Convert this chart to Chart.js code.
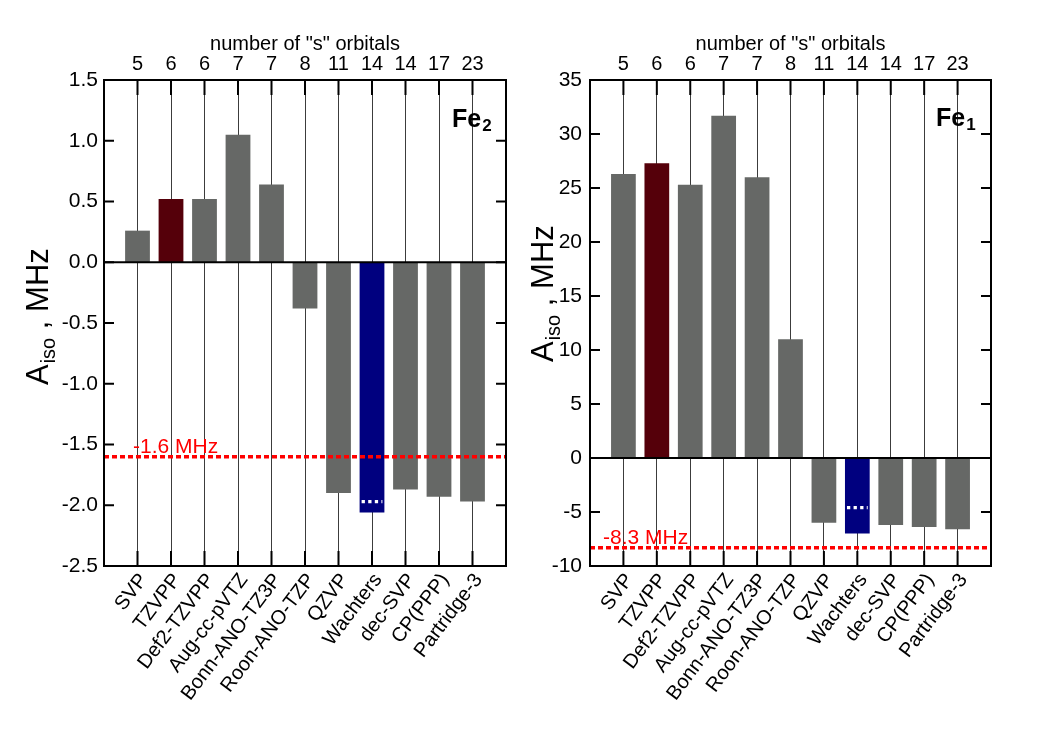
<!DOCTYPE html>
<html>
<head>
<meta charset="utf-8">
<title>Aiso basis sets</title>
<script src="https://cdn.jsdelivr.net/npm/chart.js@4.4.1/dist/chart.umd.min.js"></script>
<style>
  html, body { margin: 0; padding: 0; background: #fff; }
  #wrap { position: relative; width: 1050px; height: 739px; }
  .panel { position: absolute; top: 0; width: 525px; height: 739px; }
</style>
</head>
<body>
<div id="wrap">
  <div class="panel" style="left:0;"><canvas id="ch-fe2"></canvas></div>
  <div class="panel" style="left:525px;"><canvas id="ch-fe1"></canvas></div>
</div>
<script>
// ── datos ────────────────────────────────────────────────
const BASIS = ['SVP', 'TZVPP', 'Def2-TZVPP', 'Aug-cc-pVTZ', 'Bonn-ANO-TZ3P', 'Roon-ANO-TZP',
               'QZVP', 'Wachters', 'dec-SVP', 'CP(PPP)', 'Partridge-3'];
const S_ORB = [5, 6, 6, 7, 7, 8, 11, 14, 14, 17, 23];
const FE2   = [0.26, 0.52, 0.52, 1.05, 0.64, -0.38, -1.90, -2.06, -1.87, -1.93, -1.97];
const FE1   = [26.3, 27.3, 25.3, 31.7, 26.0, 11.0, -6.0, -7.0, -6.2, -6.4, -6.6];
const FE2_Y = [-2.5, 1.5, 0.5];   // min, max, paso
const FE1_Y = [-10, 35, 5];
const EXP_FE2 = -1.6;             // línea experimental
const EXP_FE1 = -8.3;
const WACH_FE2 = -1.97;           // marca punteada dentro de Wachters
const WACH_FE1 = -4.6;

const GRAY = '#666866', RED = '#55000a', BLUE = '#00007f';
const FONT = 'Liberation Sans, Arial, Helvetica, sans-serif';

// relleno de una categoría vacía a cada lado
const padded = (arr, fill) => [fill, ...arr, fill];
const barColors = BASIS.map((b, i) => i === 1 ? RED : i === 7 ? BLUE : GRAY);

// ── decoración: marco, ticks interiores, líneas de referencia, textos ──
const panelDeco = {
  id: 'panelDeco',
  afterDatasetsDraw(chart, args, o) {
    const { ctx, chartArea: a, scales: { x, y } } = chart;
    ctx.save();

    // línea cero
    const y0 = y.getPixelForValue(0);
    ctx.strokeStyle = '#000';
    ctx.lineWidth = 2;
    ctx.beginPath(); ctx.moveTo(a.left, y0); ctx.lineTo(a.right, y0); ctx.stroke();

    // punteado blanco en la barra Wachters
    const el = chart.getDatasetMeta(0).data[8];
    const yw = y.getPixelForValue(o.wach);
    ctx.strokeStyle = '#fff';
    ctx.lineWidth = 3.2;
    ctx.setLineDash([3.3, 3.3]);
    ctx.beginPath(); ctx.moveTo(el.x - el.width / 2 + 2, yw); ctx.lineTo(el.x + el.width / 2 - 2, yw); ctx.stroke();

    // línea experimental roja
    const ye = y.getPixelForValue(o.exp);
    ctx.strokeStyle = '#ff0000';
    ctx.lineWidth = 3.5;
    ctx.setLineDash([5, 3]);
    ctx.beginPath(); ctx.moveTo(a.left, ye); ctx.lineTo(a.right, ye); ctx.stroke();
    ctx.setLineDash([]);
    ctx.fillStyle = '#ff0000';
    ctx.font = `21px ${FONT}`;
    ctx.textBaseline = 'alphabetic';
    ctx.textAlign = 'left';
    ctx.fillText(o.exp.toFixed(1) + ' MHz', a.left + o.expDx, ye - 4);

    // ticks interiores
    ctx.strokeStyle = '#000';
    ctx.lineWidth = 2;
    ctx.beginPath();
    for (let i = 1; i <= BASIS.length; i++) {
      const px = x.getPixelForTick(i);
      ctx.moveTo(px, a.top); ctx.lineTo(px, a.top + 15);
      ctx.moveTo(px, a.bottom); ctx.lineTo(px, a.bottom - 15);
    }
    y.ticks.forEach((t, i) => {
      const py = y.getPixelForTick(i);
      ctx.moveTo(a.left, py); ctx.lineTo(a.left + 10, py);
      ctx.moveTo(a.right, py); ctx.lineTo(a.right - 10, py);
    });
    ctx.stroke();

    // marco
    ctx.lineWidth = 2;
    ctx.strokeRect(a.left, a.top, a.right - a.left, a.bottom - a.top);

    // etiqueta Fe
    ctx.fillStyle = '#000';
    ctx.font = `bold 25px ${FONT}`;
    ctx.fillText('Fe', o.feX, o.feY);
    const wFe = ctx.measureText('Fe').width;
    ctx.font = `bold 17px ${FONT}`;
    ctx.fillText(o.sub, o.feX + wFe + 1, o.feY + 4);

    // título eje Y: A_iso , MHz
    ctx.translate(o.titleX, o.titleY);
    ctx.rotate(-Math.PI / 2);
    ctx.font = `31px ${FONT}`;
    ctx.fillText('A', 0, 0);
    let w = ctx.measureText('A').width;
    ctx.font = `20px ${FONT}`;
    ctx.fillText('iso', w + 1, 7);
    w += ctx.measureText('iso').width + 1;
    ctx.font = `31px ${FONT}`;
    ctx.fillText(' , MHz', w, 0);

    ctx.restore();
  }
};

function makePanel(id, vals, yr, deco) {
  return new Chart(document.getElementById(id), {
    type: 'bar',
    data: {
      labels: padded(BASIS, ''),
      datasets: [{
        data: padded(vals, null),
        backgroundColor: padded(barColors, GRAY),
        borderWidth: 0,
        barPercentage: 0.74,
        categoryPercentage: 1,
      }],
    },
    options: {
      responsive: true,
      maintainAspectRatio: false,
      animation: false,
      layout: { padding: { left: 0, right: deco.padRight, top: 0, bottom: 0 } },
      plugins: { legend: { display: false }, tooltip: { enabled: false }, panelDeco: deco },
      scales: {
        x: {
          type: 'category', position: 'bottom', offset: false,
          grid: { color: '#3c3c3c', lineWidth: 1, drawTicks: false, offset: false },
          border: { display: false },
          ticks: { autoSkip: false, minRotation: 53, maxRotation: 53, padding: 3, labelOffset: 6,
                   color: '#000', font: { family: FONT, size: 20 } },
          afterFit: s => { s.height = 173; s.paddingLeft = 0; s.paddingRight = 0; },
        },
        x2: {
          type: 'category', position: 'top', offset: false,
          labels: padded(S_ORB.map(String), ''),
          grid: { display: false, drawTicks: false },
          border: { display: false },
          ticks: { autoSkip: false, maxRotation: 0, padding: 4, color: '#000', font: { family: FONT, size: 20 } },
          title: { display: true, text: 'number of "s" orbitals', color: '#000', font: { family: FONT, size: 20 }, padding: { top: 32, bottom: 0 } },
          afterFit: s => { s.height = 80; s.paddingLeft = 0; s.paddingRight = 0; },
        },
        y: {
          min: yr[0], max: yr[1],
          grid: { display: false, drawTicks: false },
          border: { display: false },
          ticks: { stepSize: yr[2], padding: deco.tickPad, color: '#000', font: { family: FONT, size: 21 },
                   callback: v => deco.dec ? v.toFixed(1) : String(v) },
          afterFit: s => { s.width = deco.yWidth; },
        },
      },
    },
    plugins: [panelDeco],
  });
}

makePanel('ch-fe2', FE2, FE2_Y, {
  padRight: 19, yWidth: 104, tickPad: 6, dec: true,
  exp: EXP_FE2, expDx: 29, wach: WACH_FE2,
  feX: 452, feY: 127, sub: '2', titleX: 48, titleY: 385,
});
makePanel('ch-fe1', FE1, FE1_Y, {
  padRight: 59, yWidth: 65, tickPad: 8, dec: false,
  exp: EXP_FE1, expDx: 13, wach: WACH_FE1,
  feX: 411, feY: 126, sub: '1', titleX: 28, titleY: 362,
});
</script>
</body>
</html>
